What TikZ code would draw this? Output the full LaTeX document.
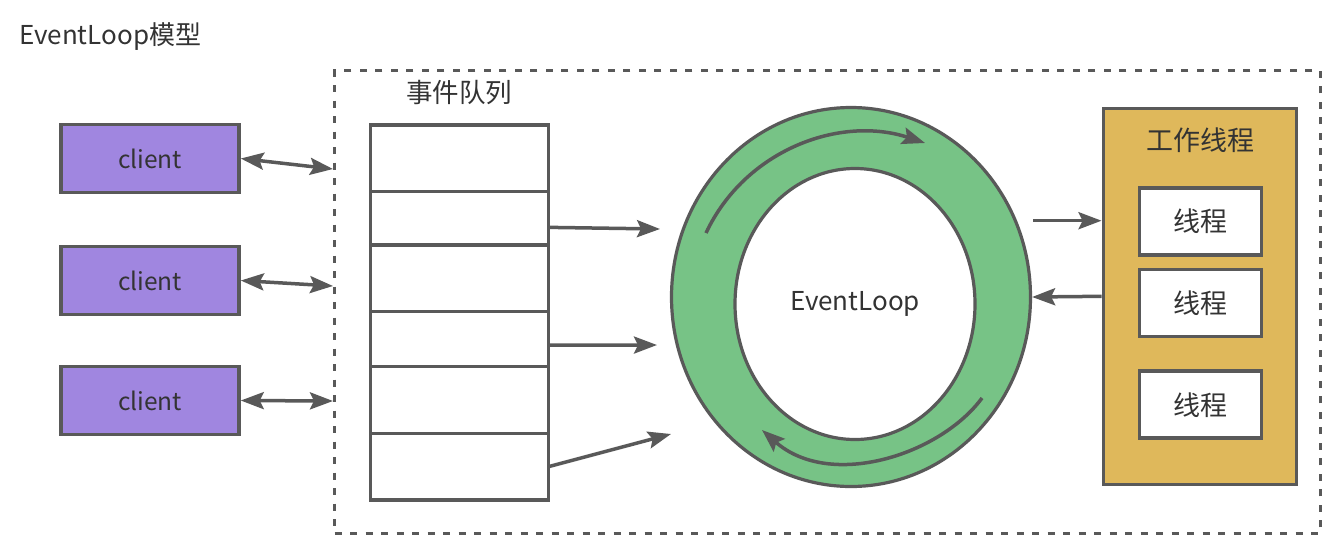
\documentclass[tikz,border=0pt]{standalone}
\usepackage{fontspec}
\setmainfont{Noto Sans CJK SC}
\usepackage{xcolor}
\usepackage{tikz}
\usetikzlibrary{shapes,arrows.meta,positioning,fit,backgrounds,calc}

\definecolor{linegray}{HTML}{595959}
\definecolor{textgray}{HTML}{333333}
\definecolor{clientpurple}{HTML}{A086E0}
\definecolor{ringgreen}{HTML}{77C386}
\definecolor{workyellow}{HTML}{DFB85B}

\begin{document}
\begin{tikzpicture}[
  x=1pt, y=-1pt,
  caption/.style={text=textgray, inner sep=0pt, font=\fontsize{26}{30}\selectfont},
  client/.style={rectangle, draw=linegray, line width=3.5pt, fill=clientpurple,
    minimum width=178pt, minimum height=68pt, text=textgray,
    font=\fontsize{24.5}{28}\selectfont},
  cell/.style={rectangle, draw=linegray, line width=3.5pt, fill=white,
    minimum width=178pt, outer sep=0pt},
  thread/.style={rectangle, draw=linegray, line width=3.5pt, fill=white,
    minimum width=122pt, minimum height=67pt, text=textgray,
    font=\fontsize{27}{32}\selectfont},
  frame/.style={rectangle, draw=linegray, line width=3.5pt,
    dash pattern=on 7pt off 8.5pt},
  arrow/.style={-{Stealth[length=23pt, width=17pt, inset=4pt]},
    line width=3.5pt, draw=linegray},
  twoway/.style={{Stealth[length=23pt, width=17pt, inset=4pt]}-{Stealth[length=23pt, width=17pt, inset=4pt]},
    line width=3.5pt, draw=linegray}
]
\useasboundingbox (0,0) rectangle (1336,539);

\node[caption, anchor=west] (title) at (19,37) {EventLoop模型};
\node[frame, minimum width=986pt, minimum height=462.6pt] (frame) at (827.7,302) {};
\node[caption, font=\fontsize{26.5}{30}\selectfont] (qlabel) at (459,92) {事件队列};

\foreach \y [count=\i] in {158.5,280.5,400.5} {
  \node[client] (c\i) at (150,\y) {client};
}

\foreach \t/\b [count=\i] in {125/191.7,191.7/245,245/311.7,311.7/366.7,366.7/433.3,433.3/500} {
  \pgfmathsetmacro\h{\b-\t}
  \pgfmathsetmacro\m{(\t+\b)/2}
  \node[cell, minimum height=\h pt] (q\i) at (459.5,\m) {};
}

\node[ellipse, draw=linegray, line width=3.2pt, fill=ringgreen,
  minimum width=359pt, minimum height=379pt] (ring) at (851,297) {};
\node[ellipse, draw=linegray, line width=3.2pt, fill=white, text=textgray,
  minimum width=240pt, minimum height=271pt,
  font=\fontsize{26}{30}\selectfont] (loop) at (855,304) {EventLoop};

\node[rectangle, draw=linegray, line width=3.5pt, fill=workyellow,
  minimum width=193.4pt, minimum height=376pt] (workers) at (1200,296.3) {};
\node[caption, font=\fontsize{27}{32}\selectfont] (wlabel) at (1200,140) {工作线程};
\foreach \y [count=\i] in {221.3,303.2,404.7} {
  \node[thread] (t\i) at (1200.4,\y) {线程};
}

\coordinate (port1) at (333,169);
\coordinate (port2) at (333,286);
\coordinate (port3) at (333,401);
\foreach \i in {1,2,3} { \draw[twoway] (c\i.east) -- (port\i); }

\coordinate (in1) at (660,229);
\coordinate (in2) at (657,345);
\coordinate (in3) at (671,434);
\draw[arrow] ([yshift=-9pt]q2.east) -- (in1);
\draw[arrow] ([yshift=-6pt]q4.east) -- (in2);
\draw[arrow] (q6.east) -- (in3);

\draw[arrow] (706,233) .. controls (745,150) and (840,115) .. (925,143);
\draw[arrow] (982,398) .. controls (940,455) and (830,490) .. (762,430);

\coordinate (out1) at (1033,220.7);
\draw[arrow] (out1) -- (out1 -| workers.west);
\draw[arrow] (workers.west) -- (ring.east);
\end{tikzpicture}
\end{document}
